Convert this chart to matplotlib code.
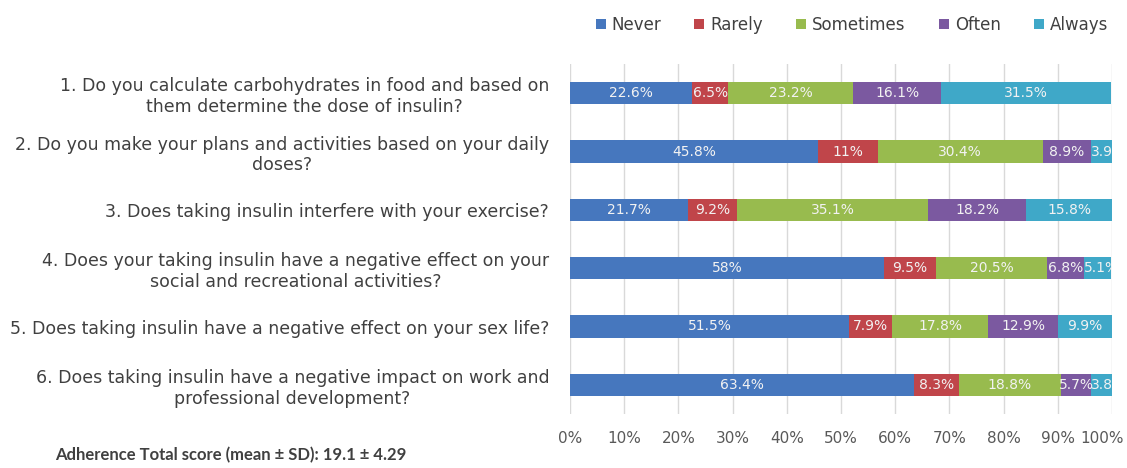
import numpy as np
import matplotlib
matplotlib.use("Agg")
import matplotlib.pyplot as plt
from matplotlib.ticker import PercentFormatter
import matplotlib.transforms as mtransforms

plt.rcParams['font.family'] = ['DejaVu Sans']

questions = [
    "1. Do you calculate carbohydrates in food and based on\nthem determine the dose of insulin?",
    "2. Do you make your plans and activities based on your daily\ndoses?",
    "3. Does taking insulin interfere with your exercise?",
    "4. Does your taking insulin have a negative effect on your\nsocial and recreational activities?",
    "5. Does taking insulin have a negative effect on your sex life?",
    "6. Does taking insulin have a negative impact on work and\nprofessional development?",
]
answers = ["Never", "Rarely", "Sometimes", "Often", "Always"]
never = [22.6, 45.8, 21.7, 58.0, 51.5, 63.4]
rarely = [6.5, 11.0, 9.2, 9.5, 7.9, 8.3]
sometimes = [23.2, 30.4, 35.1, 20.5, 17.8, 18.8]
often = [16.1, 8.9, 18.2, 6.8, 12.9, 5.7]
always = [31.5, 3.9, 15.8, 5.1, 9.9, 3.8]
colors = ["#4677BE", "#C0454A", "#98BB4E", "#7B59A0", "#3FA8C8"]

series = [never, rarely, sometimes, often, always]

fig = plt.figure(figsize=(11.27, 4.68), dpi=100)
ax = fig.add_axes([570/1127, 1-414/468, 542/1127, 350/468])

y = np.arange(len(questions))
left = np.zeros(len(questions))
for name, vals, c in zip(answers, series, colors):
    vals = np.array(vals)
    ax.barh(y, vals, left=left, height=0.38, color=c, label=name, zorder=2)
    for yi, l, v in zip(y, left, vals):
        lab = "%g%%" % v
        if v < 6 and name == "Always":
            # narrow end pieces: text starts at the segment and gets cut at 100%
            ax.text(l, yi, lab, ha='left', va='center', color='#F2F2F2',
                    fontsize=10, clip_on=True, zorder=3)
        else:
            ax.text(l + v / 2, yi, lab, ha='center', va='center', color='#F2F2F2',
                    fontsize=10, clip_on=True, zorder=3)
    left += vals

ax.set_xlim(0, 100)
ax.set_ylim(len(questions) - 0.5, -0.5)
ax.set_xticks(np.arange(0, 101, 10))
ax.xaxis.set_major_formatter(PercentFormatter(decimals=0))
ax.set_yticks(y)
ax.set_yticklabels(questions, fontsize=12.5, color='#404040', multialignment='center')
ax.tick_params(axis='x', length=0, pad=12, labelsize=11, labelcolor='#595959')
ax.tick_params(axis='y', length=0, pad=15)
ax.grid(axis='x', color='#D9D9D9', linewidth=1, zorder=0)
for s in ax.spines.values():
    s.set_visible(False)

# last tick label squeezed in like the original
last = ax.get_xticklabels()[-1]
last.set_transform(last.get_transform() + mtransforms.ScaledTranslation(-10/100, 0, fig.dpi_scale_trans))

ax.legend(loc='center', bbox_to_anchor=(0.52, (414-25)/350), ncol=5, frameon=False,
          handlelength=0.6, handleheight=0.6, handletextpad=0.35, columnspacing=2.0,
          fontsize=12, labelcolor='#404040')

fig.text(55/1127, 1-455/468, "Adherence Total score (mean ± SD): 19.1 ± 4.29",
         fontsize=12, fontweight='bold', color='#404040', va='center', family='Lato')

fig.savefig("out.png", dpi=100)
